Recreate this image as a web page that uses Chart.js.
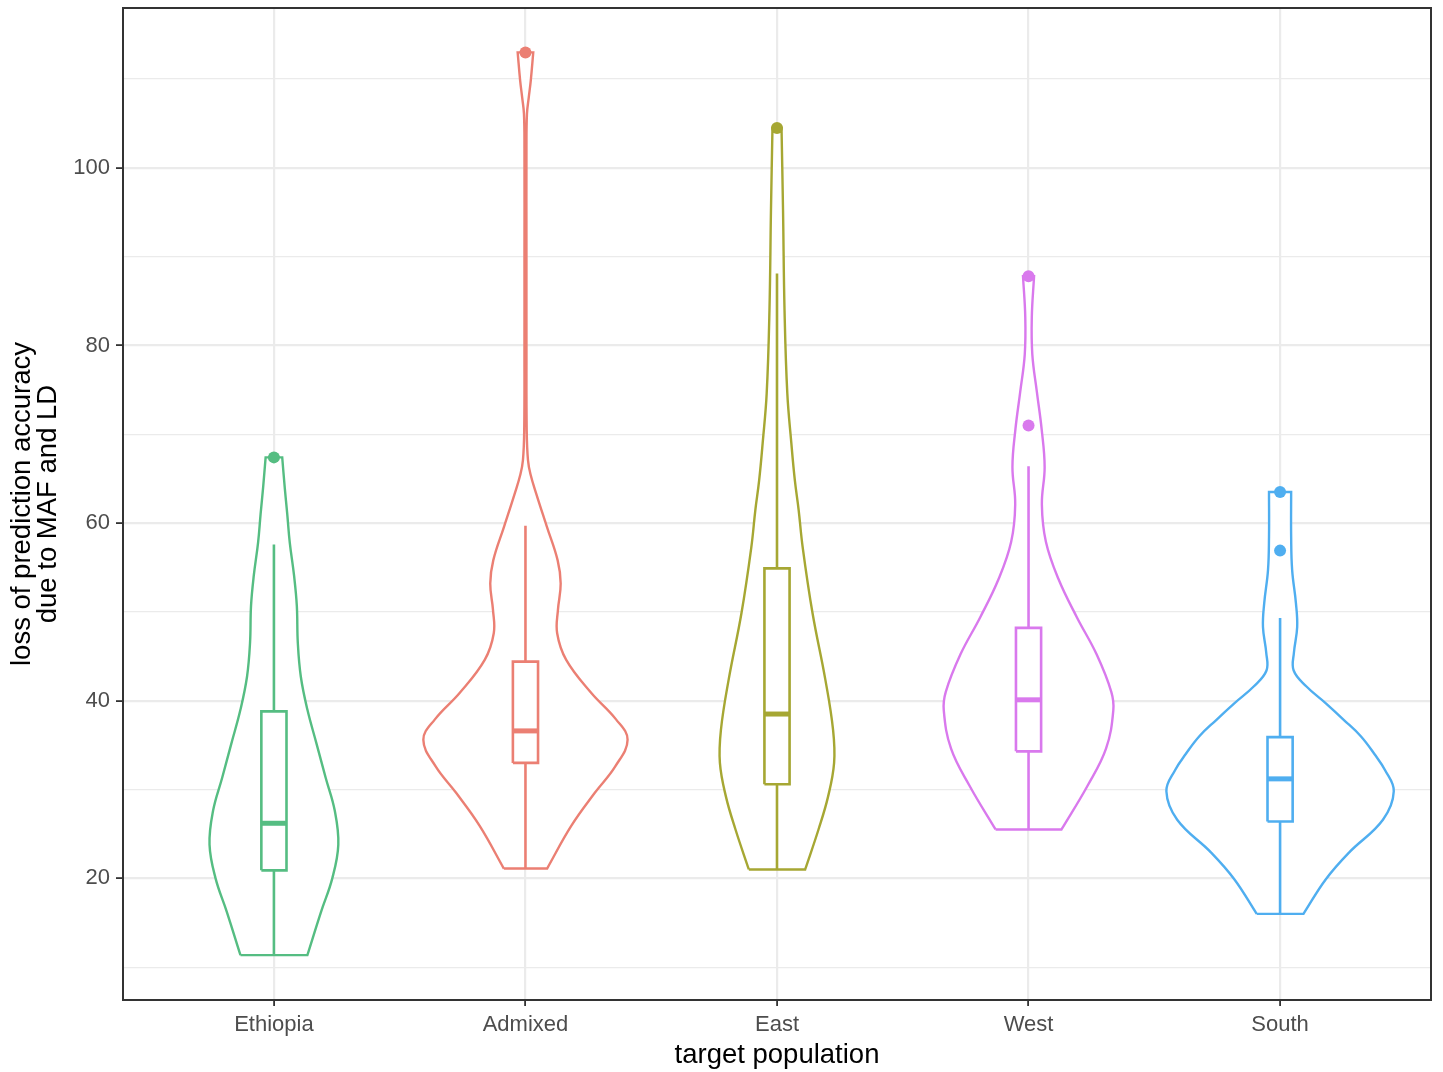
<!DOCTYPE html>
<html>
<head>
<meta charset="utf-8">
<title>Loss of prediction accuracy by target population</title>
<script src="https://cdn.jsdelivr.net/npm/chart.js@4/dist/chart.umd.min.js"></script>
<style>
  html, body { margin: 0; padding: 0; background: #ffffff; }
  #wrap { width: 1443px; height: 1072px; }
</style>
</head>
<body>
<div id="wrap"><canvas id="chart" width="1443" height="1072"></canvas></div>
<script>
// ---- categories ----
const populations = ['Ethiopia', 'Admixed', 'East', 'West', 'South'];
const popColors = ['#55BD82', '#EB7F73', '#A6A733', '#D979ED', '#4FAEF0'];

// ---- violin outlines: loss values (bottom to top) and density half-widths
//      expressed as a fraction of the spacing between categories ----
const ethiopiaLoss  = [11.35, 16.2, 20.0, 23.8, 27.6, 31.3, 35.2, 39.0, 42.7, 46.5, 50.7, 54.1, 57.8, 61.0, 64.0, 67.4];
const ethiopiaWidth = [0.133, 0.187, 0.232, 0.256, 0.242, 0.206, 0.169, 0.133, 0.107, 0.095, 0.091, 0.080, 0.063, 0.053, 0.043, 0.033];

const admixedLoss  = [21.1, 25.9, 29.6, 32.6, 35.6, 37.9, 40.9, 44.6, 47.6, 50.2, 53.2, 55.8, 59.6, 63.3, 65.5, 67.1, 70.4, 80.0, 90.0, 102.2, 106.1, 107.9, 109.8, 113.0];
const admixedWidth = [0.086, 0.182, 0.275, 0.357, 0.406, 0.360, 0.261, 0.162, 0.126, 0.129, 0.140, 0.128, 0.085, 0.043, 0.020, 0.010, 0.005, 0.004, 0.004, 0.004, 0.006, 0.013, 0.021, 0.031];

const eastLoss  = [21.0, 25.5, 29.2, 33.0, 36.7, 42.4, 49.9, 57.3, 61.5, 64.8, 69.0, 74.6, 83.9, 95.2, 104.5];
const eastWidth = [0.112, 0.165, 0.203, 0.227, 0.223, 0.192, 0.141, 0.102, 0.086, 0.071, 0.057, 0.041, 0.030, 0.024, 0.018];

const westLoss  = [25.5, 30.4, 34.6, 38.9, 41.0, 45.2, 49.4, 53.7, 57.9, 62.1, 66.3, 70.6, 74.8, 79.0, 83.2, 87.8];
const westWidth = [0.131, 0.234, 0.308, 0.337, 0.329, 0.271, 0.192, 0.119, 0.069, 0.053, 0.064, 0.052, 0.033, 0.015, 0.013, 0.022];

const southLoss  = [16.0, 19.9, 22.9, 26.6, 29.8, 32.2, 34.0, 36.0, 37.8, 39.7, 41.6, 43.4, 45.4, 48.3, 51.0, 54.7, 58.5, 63.5];
const southWidth = [0.093, 0.182, 0.274, 0.409, 0.452, 0.417, 0.375, 0.321, 0.255, 0.182, 0.105, 0.054, 0.055, 0.068, 0.063, 0.048, 0.044, 0.044];

// ---- box plot statistics, one entry per population ----
const whiskerLow  = [11.35, 21.1, 21.0, 25.5, 16.0];
const quartile1   = [20.9, 33.0, 30.6, 34.3, 26.4];
const medians     = [26.2, 36.6, 38.5, 40.1, 31.2];
const quartile3   = [38.8, 44.4, 54.9, 48.2, 35.9];
const whiskerHigh = [57.6, 59.7, 88.1, 66.4, 49.3];
const outliers    = [[67.4], [113.0], [104.5], [71.0, 87.8], [56.9, 63.5]];

// ---- axis ticks ----
const yMajorTicks = [20, 40, 60, 80, 100];
const yMinorTicks = [10, 30, 50, 70, 90, 110];

const violinLoss  = [ethiopiaLoss, admixedLoss, eastLoss, westLoss, southLoss];
const violinWidth = [ethiopiaWidth, admixedWidth, eastWidth, westWidth, southWidth];

const FONT = "'Liberation Sans', Arial, Helvetica, sans-serif";
const BOX_HALF = 0.05;

// Closed outline of a mirrored violin. Corner points are repeated so the
// bezier smoothing keeps the flat top and bottom edges straight.
function violinOutline(center, loss, width) {
  const n = loss.length;
  const pts = [];
  for (let i = 0; i < n; i++) pts.push({ x: center - width[i], y: loss[i] });
  pts.push({ x: center - width[n - 1], y: loss[n - 1] });
  pts.push({ x: center + width[n - 1], y: loss[n - 1] });
  for (let i = n - 1; i >= 0; i--) pts.push({ x: center + width[i], y: loss[i] });
  pts.push({ x: center + width[0], y: loss[0] });
  pts.push({ x: center - width[0], y: loss[0] });
  return pts;
}

const datasets = [];
populations.forEach((name, i) => {
  const c = i + 1;
  const col = popColors[i];
  const common = { borderColor: col, pointRadius: 0, pointHoverRadius: 0, fill: false };

  // violin body (white fill hides the grid behind it)
  datasets.push(Object.assign({}, common, {
    label: name + ' density',
    data: violinOutline(c, violinLoss[i], violinWidth[i]),
    borderWidth: 2.4,
    tension: 0.4,
    fill: 'shape',
    backgroundColor: '#ffffff',
    order: 4
  }));

  // whisker
  datasets.push(Object.assign({}, common, {
    label: name + ' whisker',
    data: [{ x: c, y: whiskerLow[i] }, { x: c, y: whiskerHigh[i] }],
    borderWidth: 2.6,
    borderCapStyle: 'butt',
    order: 3
  }));

  // interquartile box
  datasets.push(Object.assign({}, common, {
    label: name + ' box',
    data: [
      { x: c - BOX_HALF, y: quartile1[i] }, { x: c + BOX_HALF, y: quartile1[i] },
      { x: c + BOX_HALF, y: quartile3[i] }, { x: c - BOX_HALF, y: quartile3[i] },
      { x: c - BOX_HALF, y: quartile1[i] }
    ],
    borderWidth: 2.6,
    borderJoinStyle: 'miter',
    fill: 'shape',
    backgroundColor: '#ffffff',
    order: 2
  }));

  // median
  datasets.push(Object.assign({}, common, {
    label: name + ' median',
    data: [{ x: c - BOX_HALF, y: medians[i] }, { x: c + BOX_HALF, y: medians[i] }],
    borderWidth: 5,
    borderCapStyle: 'butt',
    order: 1
  }));

  // outlying observations
  datasets.push({
    label: name + ' outliers',
    data: outliers[i].map(v => ({ x: c, y: v })),
    showLine: false,
    pointRadius: 6,
    pointHoverRadius: 6,
    pointBorderWidth: 0,
    pointBackgroundColor: col,
    borderColor: col,
    order: 0
  });
});

// dark frame around the panel
const panelBorder = {
  id: 'panelBorder',
  afterDatasetsDraw(chart) {
    const { ctx, chartArea: a } = chart;
    ctx.save();
    ctx.strokeStyle = '#333333';
    ctx.lineWidth = 2;
    ctx.strokeRect(a.left, a.top, a.right - a.left, a.bottom - a.top);
    ctx.restore();
  }
};

new Chart(document.getElementById('chart'), {
  type: 'line',
  data: { datasets },
  plugins: [panelBorder],
  options: {
    responsive: false,
    animation: false,
    devicePixelRatio: 1,
    events: [],
    layout: { padding: { top: 8, right: 12, left: 0, bottom: 0 } },
    plugins: {
      legend: { display: false },
      tooltip: { enabled: false }
    },
    scales: {
      x: {
        type: 'linear',
        min: 0.4,
        max: 5.6,
        afterBuildTicks: s => { s.ticks = populations.map((p, k) => ({ value: k + 1 })); },
        afterFit: s => { s.height = 72; s.paddingLeft = 0; s.paddingRight = 0; },
        border: { display: false },
        grid: {
          color: '#EBEBEB',
          lineWidth: 2.2,
          drawTicks: true,
          tickLength: 6,
          tickColor: '#333333',
          tickWidth: 1.8
        },
        ticks: {
          autoSkip: false,
          maxRotation: 0,
          padding: 6,
          color: '#4D4D4D',
          font: { family: FONT, size: 22 },
          callback: v => populations[Math.round(v) - 1]
        },
        title: {
          display: true,
          text: 'target population',
          color: '#000000',
          font: { family: FONT, size: 27.5, lineHeight: 1 },
          padding: { top: 0, bottom: 3 }
        }
      },
      y: {
        type: 'linear',
        min: 6.3,
        max: 118.0,
        afterBuildTicks: s => {
          s.ticks = yMinorTicks.concat(yMajorTicks).sort((a, b) => a - b).map(v => ({ value: v }));
        },
        afterFit: s => { s.width = 123; s.paddingTop = 0; s.paddingBottom = 0; },
        border: { display: false },
        grid: {
          color: '#EBEBEB',
          lineWidth: ctx => (ctx.tick && yMajorTicks.includes(ctx.tick.value)) ? 2.2 : 1.2,
          drawTicks: true,
          tickLength: 7,
          tickColor: ctx => (ctx.tick && yMajorTicks.includes(ctx.tick.value)) ? '#333333' : 'rgba(0,0,0,0)',
          tickWidth: 1.8
        },
        ticks: {
          autoSkip: false,
          padding: 6,
          color: '#4D4D4D',
          font: { family: FONT, size: 22 },
          callback: v => yMajorTicks.includes(v) ? String(v) : ''
        },
        title: {
          display: true,
          text: ['loss of prediction accuracy', 'due to MAF and LD'],
          color: '#000000',
          font: { family: FONT, size: 27.5, lineHeight: 0.92 },
          padding: { top: 10, bottom: 0 }
        }
      }
    }
  }
});
</script>
</body>
</html>
